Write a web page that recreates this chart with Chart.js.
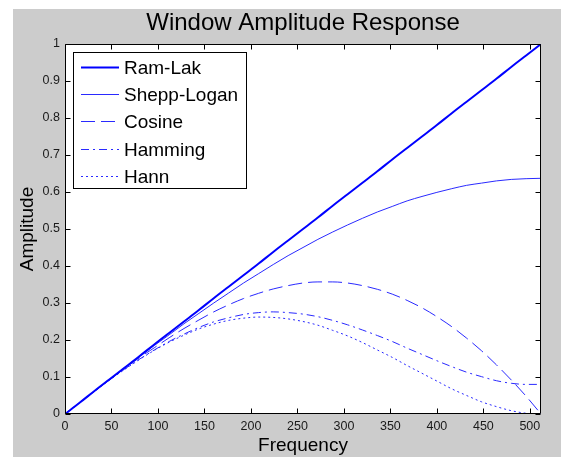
<!DOCTYPE html>
<html>
<head>
<meta charset="utf-8">
<title>Window Amplitude Response</title>
<script src="https://cdn.jsdelivr.net/npm/chart.js@4.4.1/dist/chart.umd.min.js"></script>
<style>
  html, body { margin: 0; padding: 0; background: #ffffff; }
  #wrap { position: relative; width: 561px; height: 457px; }
</style>
</head>
<body>
<div id="wrap"><canvas id="c" width="561" height="457"></canvas></div>
<script>
// Frequency samples (0 .. 512)
const freq = [0, 16, 32, 48, 64, 80, 96, 112, 128, 144, 160, 176, 192, 208, 224, 240, 256,
              272, 288, 304, 320, 336, 352, 368, 384, 400, 416, 432, 448, 464, 480, 496, 512];

const ramLak = [0, 0.031, 0.063, 0.094, 0.125, 0.156, 0.188, 0.219, 0.25, 0.281, 0.313, 0.344, 0.375,
                0.406, 0.438, 0.469, 0.5, 0.531, 0.563, 0.594, 0.625, 0.656, 0.688, 0.719, 0.75,
                0.781, 0.813, 0.844, 0.875, 0.906, 0.938, 0.969, 1];

const sheppLogan = [0, 0.031, 0.062, 0.093, 0.124, 0.155, 0.185, 0.214, 0.244, 0.272, 0.300, 0.327, 0.354,
                    0.379, 0.404, 0.428, 0.450, 0.472, 0.492, 0.511, 0.529, 0.546, 0.561, 0.576, 0.588,
                    0.599, 0.609, 0.618, 0.624, 0.630, 0.634, 0.636, 0.637];

const cosine = [0, 0.031, 0.062, 0.093, 0.123, 0.152, 0.179, 0.206, 0.231, 0.254, 0.276, 0.295, 0.312,
                0.326, 0.338, 0.347, 0.354, 0.357, 0.357, 0.354, 0.347, 0.337, 0.324, 0.307, 0.287,
                0.263, 0.236, 0.205, 0.171, 0.133, 0.092, 0.048, 0];

const hamming = [0, 0.031, 0.062, 0.092, 0.121, 0.148, 0.173, 0.196, 0.216, 0.234, 0.249, 0.260, 0.269,
                 0.274, 0.276, 0.274, 0.270, 0.263, 0.253, 0.241, 0.227, 0.212, 0.196, 0.178, 0.161,
                 0.144, 0.128, 0.113, 0.101, 0.090, 0.083, 0.080, 0.080];

const hann = [0, 0.031, 0.062, 0.092, 0.120, 0.147, 0.172, 0.194, 0.213, 0.230, 0.243, 0.253, 0.259,
              0.262, 0.261, 0.257, 0.250, 0.240, 0.226, 0.211, 0.193, 0.173, 0.153, 0.131, 0.110,
              0.089, 0.068, 0.050, 0.033, 0.020, 0.009, 0.002, 0];

const seriesNames = ['Ram-Lak', 'Shepp-Logan', 'Cosine', 'Hamming', 'Hann'];
const xTicks = [0, 50, 100, 150, 200, 250, 300, 350, 400, 450, 500];
const yTicks = [0, 0.1, 0.2, 0.3, 0.4, 0.5, 0.6, 0.7, 0.8, 0.9, 1];

const FONT = "'Liberation Sans', Arial, Helvetica, sans-serif";
const BLUE = '#0000ff';
const THIN = '#2a2aff';

function points(vals) {
  return freq.map((f, i) => ({ x: f, y: vals[i] }));
}

const styles = [
  { color: BLUE, width: 2, dash: [] },
  { color: THIN, width: 1, dash: [] },
  { color: THIN, width: 1, dash: [14, 6] },
  { color: THIN, width: 1, dash: [8, 4, 2, 4] },
  { color: THIN, width: 1, dash: [2, 3] }
];

const seriesValues = [ramLak, sheppLogan, cosine, hamming, hann];

const datasets = seriesValues.map((vals, i) => ({
  label: seriesNames[i],
  data: points(vals),
  borderColor: styles[i].color,
  borderWidth: styles[i].width,
  borderDash: styles[i].dash,
  pointRadius: 0,
  fill: false,
  cubicInterpolationMode: 'monotone'
}));

// Grey figure background and white axes face
const backdrop = {
  id: 'backdrop',
  beforeDraw(chart) {
    const ctx = chart.ctx;
    const a = chart.chartArea;
    ctx.save();
    ctx.fillStyle = '#ffffff';
    ctx.fillRect(0, 0, chart.width, chart.height);
    ctx.fillStyle = '#cccccc';
    ctx.fillRect(13, 9, chart.width - 13, chart.height - 9);
    ctx.fillStyle = '#ffffff';
    ctx.fillRect(a.left, a.top, a.right - a.left, a.bottom - a.top);
    ctx.restore();
  }
};

// Box around the axes with inward ticks on all four sides, then the legend
const frameAndLegend = {
  id: 'frameAndLegend',
  afterDatasetsDraw(chart) {
    const ctx = chart.ctx;
    const a = chart.chartArea;
    const xs = chart.scales.x, ys = chart.scales.y;
    const L = Math.round(a.left) + 0.5, R = Math.round(a.right) - 0.5;
    const T = Math.round(a.top) + 0.5, B = Math.round(a.bottom) - 0.5;
    const tl = 5;
    ctx.save();
    ctx.strokeStyle = '#000000';
    ctx.lineWidth = 1;
    ctx.setLineDash([]);
    ctx.beginPath();
    ctx.rect(L, T, R - L, B - T);
    xTicks.forEach(v => {
      const px = Math.round(xs.getPixelForValue(v)) + 0.5;
      ctx.moveTo(px, B); ctx.lineTo(px, B - tl);
      ctx.moveTo(px, T); ctx.lineTo(px, T + tl);
    });
    yTicks.forEach(v => {
      const py = Math.round(ys.getPixelForValue(v)) + 0.5;
      ctx.moveTo(L, py); ctx.lineTo(L + tl, py);
      ctx.moveTo(R, py); ctx.lineTo(R - tl, py);
    });
    ctx.stroke();

    // legend
    const bx = 73.5, by = 52.5, bw = 173, bh = 136;
    ctx.fillStyle = '#ffffff';
    ctx.fillRect(bx, by, bw, bh);
    ctx.strokeStyle = '#000000';
    ctx.strokeRect(bx, by, bw, bh);
    ctx.font = '19px ' + FONT;
    ctx.textBaseline = 'middle';
    ctx.textAlign = 'left';
    chart.data.datasets.forEach((ds, i) => {
      const y = Math.round(67 + i * 27.2) + 0.5;
      ctx.beginPath();
      ctx.strokeStyle = ds.borderColor;
      ctx.lineWidth = ds.borderWidth;
      ctx.setLineDash(ds.borderDash || []);
      ctx.moveTo(81, y);
      ctx.lineTo(119, y);
      ctx.stroke();
      ctx.setLineDash([]);
      ctx.fillStyle = '#000000';
      ctx.fillText(ds.label, 124, y + 1);
    });
    ctx.restore();
  }
};

new Chart(document.getElementById('c'), {
  type: 'line',
  data: { datasets },
  options: {
    responsive: false,
    animation: false,
    events: [],
    layout: { padding: { left: 13, right: 20, top: 0, bottom: 0 } },
    plugins: {
      legend: { display: false },
      tooltip: { enabled: false },
      title: {
        display: true,
        text: 'Window Amplitude Response',
        fullSize: false,
        color: '#000000',
        font: { family: FONT, size: 24, weight: 'normal', lineHeight: 1.2 },
        padding: { top: 9, bottom: 6.2 }
      }
    },
    scales: {
      x: {
        type: 'linear',
        min: 0,
        max: 512,
        afterBuildTicks: s => { s.ticks = xTicks.map(v => ({ value: v })); },
        afterFit: s => { s.height = 43; },
        grid: { display: false, drawTicks: false },
        border: { display: false },
        ticks: {
          padding: 5,
          autoSkip: false,
          maxRotation: 0,
          color: '#1a1a1a',
          font: { family: FONT, size: 12.5 },
          callback: v => String(v)
        },
        title: {
          display: true,
          text: 'Frequency',
          color: '#000000',
          font: { family: FONT, size: 19, lineHeight: 1.2 },
          padding: { top: 0, bottom: 0 }
        }
      },
      y: {
        type: 'linear',
        min: 0,
        max: 1,
        afterBuildTicks: s => { s.ticks = yTicks.map(v => ({ value: v })); },
        afterFit: s => { s.width = 52; },
        grid: { display: false, drawTicks: false },
        border: { display: false },
        ticks: {
          padding: 5,
          autoSkip: false,
          color: '#1a1a1a',
          font: { family: FONT, size: 12.5 },
          callback: v => String(Math.round(v * 10) / 10)
        },
        title: {
          display: true,
          text: 'Amplitude',
          color: '#000000',
          font: { family: FONT, size: 19, lineHeight: 1.2 },
          padding: { top: 3, bottom: 0 }
        }
      }
    }
  },
  plugins: [backdrop, frameAndLegend]
});
</script>
</body>
</html>
